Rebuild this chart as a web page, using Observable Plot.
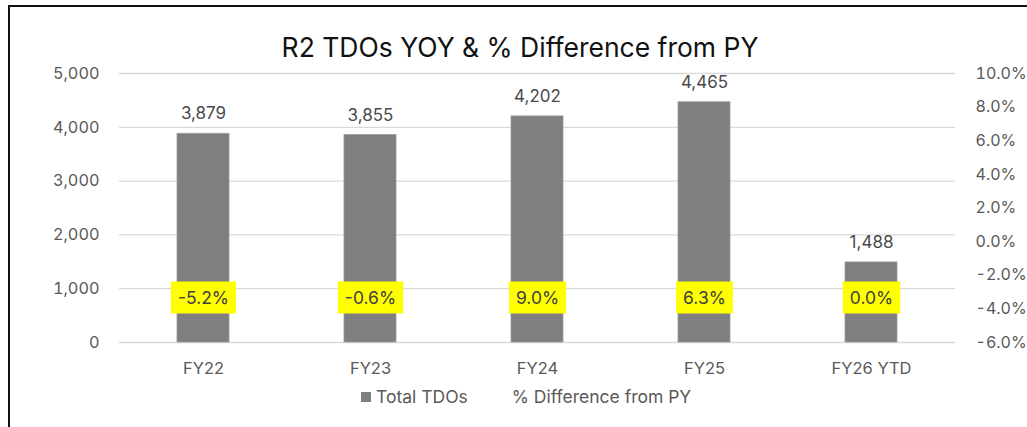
<!DOCTYPE html>
<html>
<head>
<meta charset="utf-8">
<script src="https://cdn.jsdelivr.net/npm/d3@7"></script>
<script src="https://cdn.jsdelivr.net/npm/@observablehq/plot@0.6"></script>
<style>
  html, body { margin: 0; padding: 0; background: #fff; overflow: hidden; }
  #wrap { position: relative; width: 1027px; height: 427px; overflow: hidden; font-family: Inter, "Liberation Sans", sans-serif; }
  #frame { position: absolute; left: 8px; top: 5px; width: 1100px; height: 500px; border-left: 2px solid #111; border-top: 2px solid #111; box-sizing: border-box; }
  #title { position: absolute; left: 0; width: 1040px; top: 30px; text-align: center; font-size: 26.5px; color: #111; line-height: 34px; }
  #chart { position: absolute; left: 0; top: 60px; }
  #legend { position: absolute; top: 386px; left: 361px; font-size: 17.5px; color: #595959; line-height: 22px; display: flex; align-items: center; }
  #legend .sw { display: inline-block; width: 10px; height: 10px; background: #7f7f7f; margin-right: 5px; }
  #legend .item { display: flex; align-items: center; }
</style>
</head>
<body>
<div id="wrap">
  <div id="frame"></div>
  <div id="title">R2 TDOs YOY &amp; % Difference from PY</div>
  <div id="chart"></div>
  <div id="legend">
    <span class="item"><span class="sw"></span>Total TDOs</span>
    <span class="item" style="margin-left:44px">% Difference from PY</span>
  </div>
</div>
<script>
// ---- data ----
const categories = ["FY22", "FY23", "FY24", "FY25", "FY26 YTD"];
const totalTDOs = [3879, 3855, 4202, 4465, 1488];
const pctDiff = [-5.2, -0.6, 9.0, 6.3, 0.0];
const leftTicks = [0, 1000, 2000, 3000, 4000, 5000];
const rightTicks = [-6, -4, -2, 0, 2, 4, 6, 8, 10];

// ---- scales helpers ----
const yMax = 5000, pMin = -6, pMax = 10;
const pctToY = p => (p - pMin) / (pMax - pMin) * yMax;
const yToPct = v => v / yMax * (pMax - pMin) + pMin;
const fmtPct = p => (Math.round(p * 10) / 10).toFixed(1) + "%";

const rows = categories.map((c, i) => ({cat: c, total: totalTDOs[i], pct: pctDiff[i]}));
const labelLevel = 820; // vertical level (in TDO units) of the % labels

const textColor = "#595959";
const plot = Plot.plot({
  width: 1027,
  height: 330,
  marginLeft: 119,
  marginRight: 72,
  marginTop: 13,
  marginBottom: 48,
  style: {fontFamily: "Inter, 'Liberation Sans', sans-serif", background: "transparent", overflow: "visible"},
  x: {domain: categories, paddingInner: 0.69, paddingOuter: 0.345, label: null},
  y: {domain: [0, yMax], label: null},
  marks: [
    Plot.ruleY(leftTicks, {stroke: "#d9d9d9", strokeWidth: 1.3}),
    Plot.barY(rows, {x: "cat", y: "total", fill: "#7f7f7f", stroke: "#9a9a9a", strokeWidth: 0.8}),
    Plot.axisX({tickSize: 0, tickPadding: 20, fontSize: 16.5, color: textColor, label: null}),
    Plot.axisY(leftTicks, {anchor: "left", tickSize: 0, tickPadding: 20, fontSize: 16.3, color: textColor, tickFormat: d3.format(","), label: null}),
    Plot.axisY(rightTicks.map(pctToY), {anchor: "right", tickSize: 0, tickPadding: 20, fontSize: 16, color: textColor, tickFormat: v => fmtPct(yToPct(v)), label: null}),
    Plot.text(rows, {x: "cat", y: "total", text: d => d3.format(",")(d.total), dy: -20, fontSize: 17, fill: "#4a4a4a"}),
    Plot.text(rows, {x: "cat", y: () => labelLevel, text: d => fmtPct(d.pct), fontSize: 17.5, fill: "#404040"})
  ]
});
document.getElementById("chart").appendChild(plot);

// yellow boxes behind the % labels (last text mark)
const groups = plot.querySelectorAll('g[aria-label="text"]');
const g = groups[groups.length - 1];
if (g) {
  const ns = "http://www.w3.org/2000/svg";
  const texts = Array.from(g.querySelectorAll("text"));
  const boxes = document.createElementNS(ns, "g");
  texts.forEach(t => {
    const b = t.getBBox();
    const tr = t.getAttribute("transform");
    const r = document.createElementNS(ns, "rect");
    r.setAttribute("x", b.x - 7);
    r.setAttribute("y", b.y - 5.5);
    r.setAttribute("width", b.width + 14);
    r.setAttribute("height", b.height + 11);
    r.setAttribute("fill", "#ffff00");
    if (tr) r.setAttribute("transform", tr);
    boxes.appendChild(r);
  });
  g.insertBefore(boxes, g.firstChild);
}
</script>
</body>
</html>
